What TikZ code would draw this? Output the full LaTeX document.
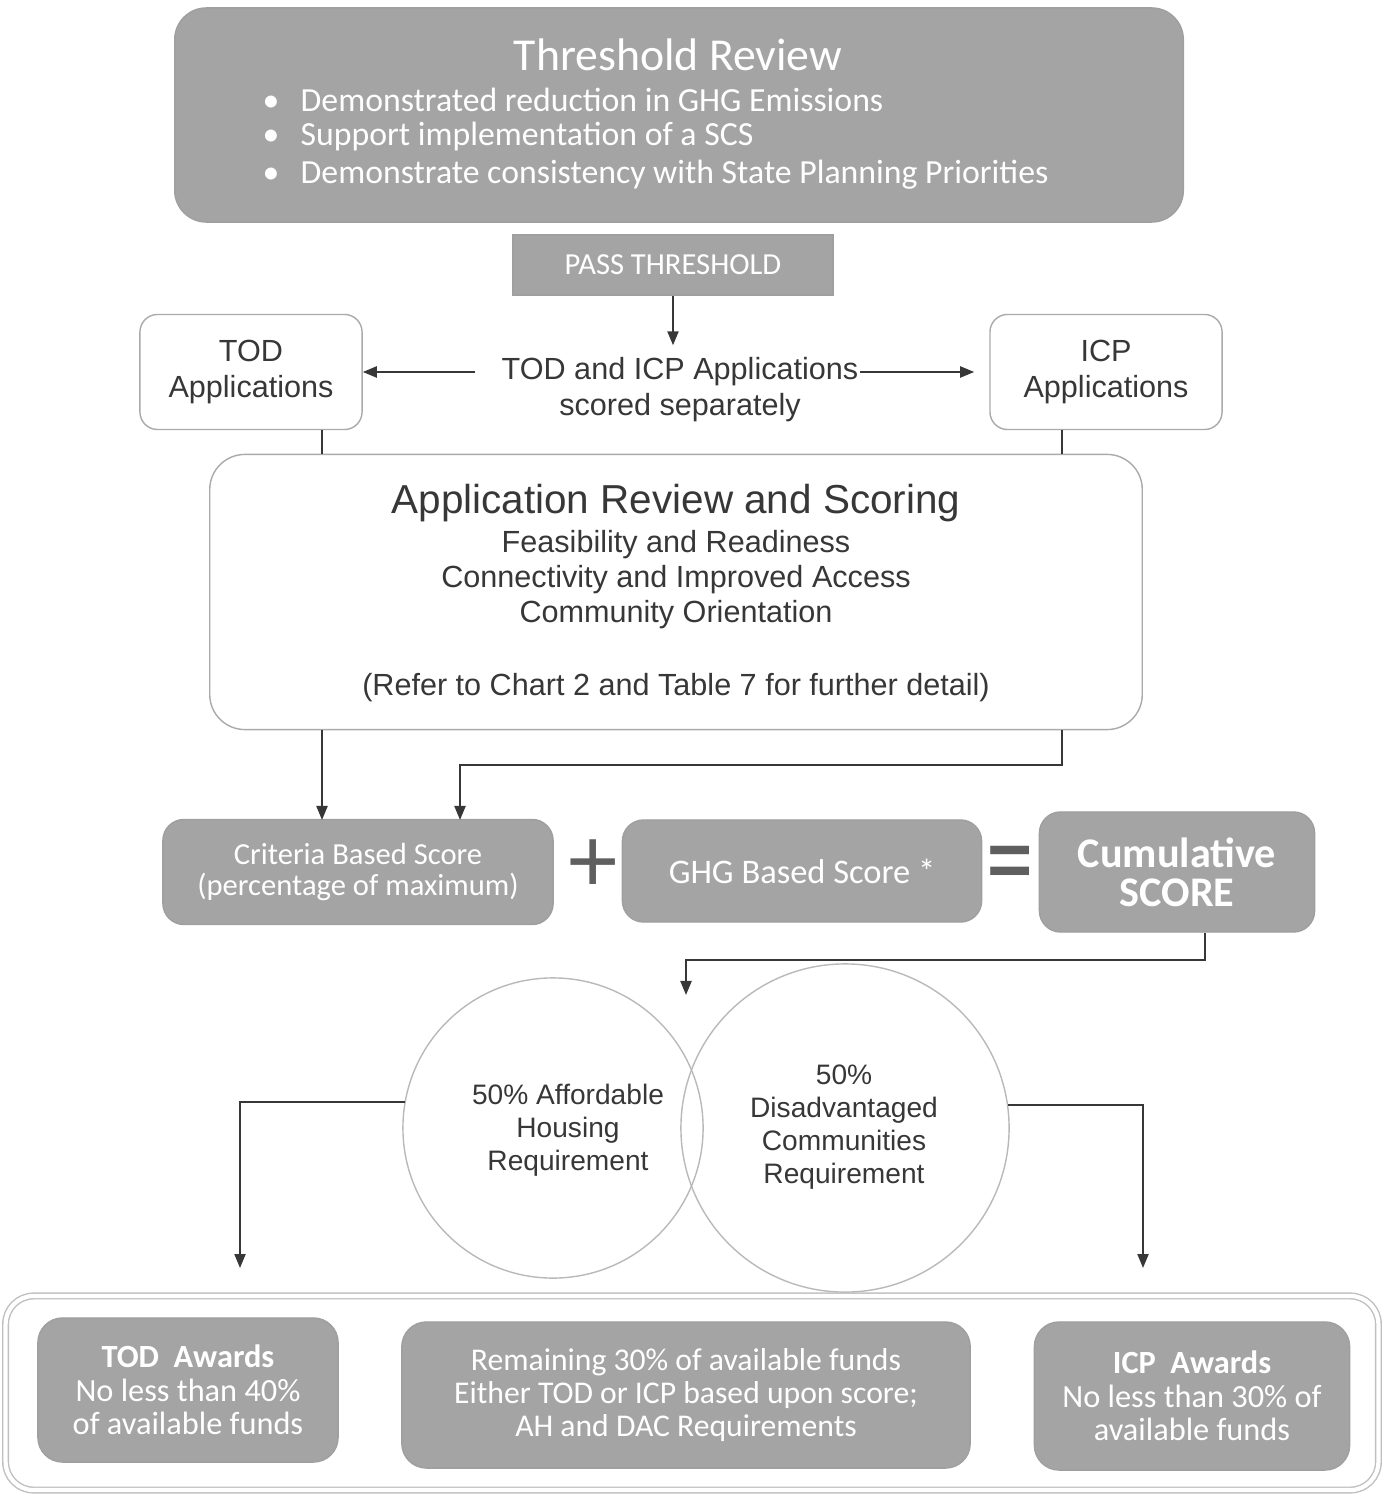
\documentclass[tikz,border=0pt]{standalone}
\usepackage{fontspec}
\setmainfont{Liberation Sans}
\newfontfamily\boxfont{Carlito}
\usetikzlibrary{arrows.meta}
\definecolor{boxgray}{RGB}{164,164,164}
\definecolor{inkgray}{RGB}{55,55,55}
\definecolor{rimgray}{RGB}{170,170,170}

\begin{document}
\begin{tikzpicture}[x=0.01cm,y=-0.01cm,
        graybox/.style={rectangle,rounded corners=6pt,fill=boxgray,draw=gray!75,text=white,align=center,inner sep=0pt,
            font=\boxfont\fontsize{9}{9.5}\selectfont},
        whitebox/.style={rectangle,rounded corners=5pt,draw=rimgray,fill=white,inner sep=0pt},
        txt/.style={text=inkgray,align=center,font=\fontsize{8.7}{10}\selectfont},
        bulletline/.style={text=white,anchor=west,inner sep=0pt,font=\boxfont\fontsize{9.6}{12}\selectfont},
        ring/.style={circle,draw=gray!55,inner sep=0pt},
        ringtxt/.style={txt,font=\fontsize{8}{9.4}\selectfont},
        conn/.style={draw=inkgray,line width=0.6pt},
        arr/.style={conn,-{Triangle[length=1.4mm,width=1.1mm]}}]

    \useasboundingbox (0,0) rectangle (1383,1495);

    \node[graybox,rounded corners=9pt,minimum width=10.08cm,minimum height=2.14cm] (thresh) at (679,115) {};
    \node[text=white,font=\boxfont\fontsize{13}{15}\selectfont] (threshtitle) at (678,55) {Threshold Review};
    \node[bulletline] (bulA) at (262,100) {\makebox[0.38cm][l]{\textbullet}Demonstrated reduction in GHG Emissions};
    \node[bulletline] (bulB) at (262,137) {\makebox[0.38cm][l]{\textbullet}Support implementation of a SCS};
    \node[bulletline] (bulC) at (262,175) {\makebox[0.38cm][l]{\textbullet}Demonstrate consistency with State Planning Priorities};

    \node[graybox,rounded corners=0pt,minimum width=3.2cm,minimum height=0.6cm,font=\boxfont\fontsize{8.7}{10}\selectfont] (pass) at (673,265) {PASS THRESHOLD};

    \node[txt] (scoredA) at (680,372) {TOD and ICP Applications};
    \node[txt] (scoredB) at (680,408) {scored separately};
    \node[whitebox,txt,minimum width=2.22cm,minimum height=1.15cm] (todapp) at (251,372) {TOD\\Applications};
    \node[whitebox,txt,minimum width=2.32cm,minimum height=1.15cm] (icpapp) at (1106,372) {ICP\\Applications};

    \draw[arr] (pass.south) -- (pass.south |- scoredA.north);
    \draw[arr] ([xshift=-4pt]scoredA.west) -- (todapp.east);
    \draw[arr] ([xshift=-3pt]scoredA.east) -- ([xshift=-1.5mm]icpapp.west);

    \node[whitebox,rounded corners=10pt,minimum width=9.32cm,minimum height=2.75cm] (review) at (676,592) {};
    \node[txt,font=\fontsize{11.5}{13}\selectfont] (revtitle) at (676,503) {Application Review and Scoring};
    \node[txt] (revA) at (676,545) {Feasibility and Readiness};
    \node[txt] (revB) at (676,580) {Connectivity and Improved Access};
    \node[txt] (revC) at (676,615) {Community Orientation};
    \node[txt] (revnote) at (676,688) {(Refer to Chart 2 and Table 7 for further detail)};

    \node[graybox,minimum width=3.9cm,minimum height=1.05cm,font=\boxfont\fontsize{8.7}{9}\selectfont] (crit) at (358,872) {Criteria Based Score\\(percentage of maximum)};
    \node[text=inkgray!80,font=\fontsize{26}{26}\selectfont] (plus) at (593,866) {+};
    \node[graybox,minimum width=3.59cm,minimum height=1.02cm,font=\boxfont\fontsize{9.8}{10}\selectfont] (ghg) at (802,871) {GHG Based Score *};
    \node[text=inkgray!80,font=\fontsize{22}{22}\selectfont\bfseries] (equals) at (1010,866) {=};
    \node[graybox,minimum width=2.75cm,minimum height=1.2cm,font=\boxfont\bfseries\fontsize{12}{11}\selectfont] (cum) at (1177,872) {Cumulative\\SCORE};

    \coordinate (tin) at (322,820);
    \coordinate (iin) at (460,820);
    \coordinate (ibend) at (1062,765);
    \draw[conn] (todapp.south -| tin) -- (review.north -| tin);
    \draw[arr] (review.south -| tin) -- (tin);
    \draw[conn] (icpapp.south -| ibend) -- (review.north -| ibend);
    \draw[arr] (review.south -| ibend) -- (ibend) -| (iin);

    \node[ring,minimum size=3.0cm] (ah) at (553,1128) {};
    \node[ring,minimum size=3.28cm] (dac) at (845,1128) {};
    \node[ringtxt] (ahtxt) at (568,1130) {50\% Affordable\\Housing\\Requirement};
    \node[ringtxt] (dactxt) at (844,1127) {50\%\\Disadvantaged\\Communities\\Requirement};

    \coordinate (cumout) at (1205,960);
    \coordinate (circin) at (686,995);
    \draw[arr] (cum.south -| cumout) -- (cumout) -| (circin);

    \coordinate (todin) at (240,1268);
    \coordinate (icpin) at (1143,1268);
    \draw[arr] (ah.170) -| (todin);
    \draw[arr] (dac.8) -| (icpin);

    \node[rectangle,rounded corners=8pt,draw=gray!50,double,double distance=1.2pt,minimum width=13.72cm,minimum height=1.94cm] (awards) at (692,1393) {};
    \node[graybox,rounded corners=7pt,minimum width=3.0cm,minimum height=1.44cm,font=\boxfont\fontsize{9.2}{9.5}\selectfont] (todaw) at (188,1390) {\textbf{TOD\ \ Awards}\\No less than 40\%\\of available funds};
    \node[graybox,rounded corners=7pt,minimum width=5.68cm,minimum height=1.46cm,font=\boxfont\fontsize{9}{9.5}\selectfont] (midaw) at (686,1395) {Remaining 30\% of available funds\\Either TOD or ICP based upon score;\\AH and DAC Requirements};
    \node[graybox,rounded corners=7pt,minimum width=3.15cm,minimum height=1.48cm,font=\boxfont\fontsize{9.2}{9.5}\selectfont] (icpaw) at (1192,1396) {\textbf{ICP\ \ Awards}\\No less than 30\% of\\available funds};
    \end{tikzpicture}
\end{document}
